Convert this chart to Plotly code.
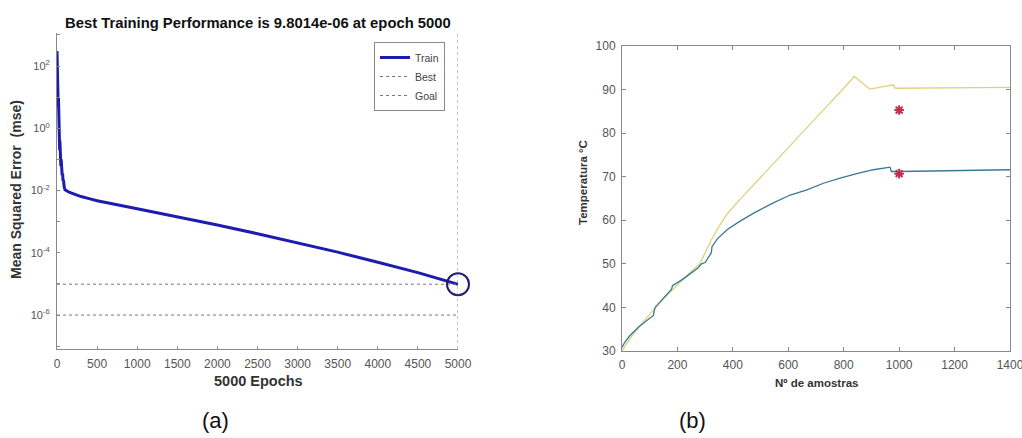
import plotly.graph_objects as go

# ---------------- data: (a) training performance ----------------
epochs = [0, 3, 6, 9, 12, 15, 18, 21, 24, 27, 30, 33, 36, 40, 44, 48, 52, 56, 60, 65, 70, 75, 80, 90,
          100, 150, 200, 300, 400, 500, 1000, 1500, 2000, 2500, 3000, 3500, 4000, 4500, 5000]
train_mse = [300, 80, 150, 20, 40, 5, 10, 1.5, 3, 0.5, 1.0, 0.2, 0.4, 0.1, 0.2, 0.06, 0.1, 0.04, 0.06,
             0.03, 0.035, 0.02, 0.022, 0.013,
             0.0105, 0.0088, 0.0078, 0.0064, 0.0055, 0.0047, 0.0026, 0.00145, 0.00078, 0.00041,
             0.00021, 0.000105, 5.0e-5, 2.3e-5, 9.8014e-6]
best_epoch = 5000
best_perf = 9.8014e-6
goal = 1e-6
y_major_vals = [1e-6, 1e-4, 1e-2, 1e0, 1e2]
y_major_labels = ["10<sup>-6</sup>", "10<sup>-4</sup>", "10<sup>-2</sup>", "10<sup>0</sup>",
                  "10<sup>2</sup>"]
y_minor_vals = [1e-7, 1e-5, 1e-3, 1e-1, 1e1, 1e3]
x_ticks_a = [0, 500, 1000, 1500, 2000, 2500, 3000, 3500, 4000, 4500, 5000]

# ---------------- data: (b) temperatures ----------------
amostras_y = [0, 25, 60, 100, 150, 200, 250, 280, 290, 323, 350, 380, 426, 500, 600, 700, 800, 838,
              895, 979, 986, 1100, 1200, 1300, 1400]
temp_yellow = [30.0, 32.5, 35.5, 38.5, 42.0, 45.2, 48.3, 49.9, 51.2, 55.6, 58.6, 61.5, 64.8, 69.9,
               76.7, 83.5, 90.3, 93.0, 90.1, 91.1, 90.3, 90.35, 90.4, 90.45, 90.5]
amostras_b = [0, 10, 28, 60, 100, 113, 119, 150, 179, 182, 220, 275, 287, 300, 315, 322, 325, 345,
              380, 426, 480, 546, 607, 667, 727, 787, 847, 907, 967, 972, 1000, 1200, 1400]
temp_blue = [30.8, 32.0, 33.5, 35.5, 37.5, 38.1, 40.0, 42.2, 44.2, 45.0, 46.5, 49.1, 50.0, 50.3,
             52.0, 52.5, 54.0, 55.8, 57.9, 59.8, 61.8, 64.0, 65.8, 67.0, 68.5, 69.7, 70.7, 71.6,
             72.2, 71.2, 71.2, 71.4, 71.6]
star_x = [1000, 1000]
star_y = [85.3, 70.7]
x_ticks_b = [0, 200, 400, 600, 800, 1000, 1200, 1400]
y_ticks_b = [30, 40, 50, 60, 70, 80, 90, 100]

FONT = "Arial, Liberation Sans, sans-serif"
W, H = 1022, 438

def px_x(p):
    return p / W

def px_y(p):
    return 1 - p / H

fig = go.Figure()

# (a) traces
fig.add_trace(go.Scatter(x=epochs, y=train_mse, mode="lines", name="Train",
                         line=dict(color="#1c1cb0", width=3), xaxis="x", yaxis="y"))
fig.add_trace(go.Scatter(x=[epochs[0], epochs[-1]], y=[best_perf, best_perf], mode="lines",
                         name="Best", line=dict(color="#777777", width=1, dash="dot"),
                         xaxis="x", yaxis="y"))
fig.add_trace(go.Scatter(x=[epochs[0], epochs[-1]], y=[goal, goal], mode="lines",
                         name="Goal", line=dict(color="#777777", width=1, dash="dot"),
                         xaxis="x", yaxis="y"))
fig.add_trace(go.Scatter(x=[best_epoch], y=[best_perf], mode="markers", showlegend=False,
                         cliponaxis=False,
                         marker=dict(symbol="circle-open", size=22, color="#1f1f70",
                                     line=dict(color="#1f1f70", width=2)),
                         xaxis="x", yaxis="y"))
fig.add_shape(type="line", xref="x", yref="y domain", x0=best_epoch, x1=best_epoch, y0=0, y1=1,
              line=dict(color="#888888", width=1, dash="dot"))

# (b) traces
fig.add_trace(go.Scatter(x=amostras_y, y=temp_yellow, mode="lines", showlegend=False,
                         line=dict(color="#dcd37c", width=1.3), xaxis="x2", yaxis="y2"))
fig.add_trace(go.Scatter(x=amostras_b, y=temp_blue, mode="lines", showlegend=False,
                         line=dict(color="#3b7893", width=1.3), xaxis="x2", yaxis="y2"))
fig.add_trace(go.Scatter(x=star_x, y=star_y, mode="markers", showlegend=False,
                         marker=dict(symbol="asterisk-open", size=8, color="#c0304a",
                                     line=dict(color="#c0304a", width=2)),
                         xaxis="x2", yaxis="y2"))

tickfont = dict(family=FONT, size=12, color="#555555")
axcol = "#888888"

fig.update_layout(
    width=W, height=H,
    margin=dict(l=0, r=0, t=0, b=0, autoexpand=False),
    paper_bgcolor="white", plot_bgcolor="white",
    font=dict(family=FONT),
    showlegend=True,
    legend=dict(x=px_x(374), y=px_y(42), xanchor="left", yanchor="top",
                bordercolor="#8a8a8a", borderwidth=1, bgcolor="white",
                font=dict(family=FONT, size=10.5, color="#444444"),
                itemwidth=30, tracegroupgap=0),
    xaxis=dict(domain=[px_x(57), px_x(458)], range=[0, 5000], anchor="y", automargin=False,
               tickvals=x_ticks_a, ticks="inside", ticklen=3, tickcolor=axcol,
               showline=True, linecolor=axcol, linewidth=1, showgrid=False, zeroline=False,
               tickfont=tickfont, ticklabelstandoff=4),
    yaxis=dict(domain=[px_y(349), px_y(33)], type="log", range=[-7.09, 3.06], anchor="x",
               automargin=False,
               tickvals=y_major_vals, ticktext=y_major_labels,
               ticks="inside", ticklen=3, tickcolor=axcol,
               minor=dict(tickvals=y_minor_vals, ticks="inside", ticklen=3, tickcolor=axcol,
                          showgrid=False),
               showline=True, linecolor=axcol, linewidth=1, showgrid=False, zeroline=False,
               tickfont=dict(family=FONT, size=11, color="#555555"), ticklabelstandoff=4),
    xaxis2=dict(domain=[px_x(622), px_x(1010)], range=[0, 1400], anchor="y2", automargin=False,
                tickvals=x_ticks_b, ticks="inside", ticklen=4, tickcolor=axcol,
                showline=True, linecolor=axcol, linewidth=1, mirror="ticks",
                ticklabeloverflow="allow",
                showgrid=False, zeroline=False, tickfont=tickfont, ticklabelstandoff=3),
    yaxis2=dict(domain=[px_y(351), px_y(46)], range=[30, 100], anchor="x2", automargin=False,
                tickvals=y_ticks_b, ticks="inside", ticklen=4, tickcolor=axcol,
                showline=True, linecolor=axcol, linewidth=1, mirror="ticks",
                showgrid=False, zeroline=False, tickfont=tickfont, ticklabelstandoff=3),
)

ann = [
    dict(text="<b>Best Training Performance is 9.8014e-06 at epoch 5000</b>",
         x=px_x(258), y=px_y(23), font=dict(size=14.8, color="#111111")),
    dict(text="<b>Mean Squared Error&nbsp; (mse)</b>", x=px_x(16), y=px_y(190), textangle=-90,
         font=dict(size=14, color="#333333")),
    dict(text="<b>5000 Epochs</b>", x=px_x(258), y=px_y(381),
         font=dict(size=14.5, color="#333333")),
    dict(text="<b>Temperatura °C</b>", x=px_x(583), y=px_y(183), textangle=-90,
         font=dict(size=11.5, color="#333333")),
    dict(text="<b>Nº de amostras</b>", x=px_x(816), y=px_y(383),
         font=dict(size=11.5, color="#333333")),
    dict(text="(a)", x=px_x(215), y=px_y(420), font=dict(size=22, color="#111111")),
    dict(text="(b)", x=px_x(692), y=px_y(420), font=dict(size=22, color="#111111")),
]
for a in ann:
    a.update(xref="paper", yref="paper", showarrow=False, xanchor="center", yanchor="middle")
    a["font"]["family"] = FONT
    fig.add_annotation(**a)

fig.write_html("out.html", config={"displayModeBar": False},
               post_script="document.body.style.margin='0';")
